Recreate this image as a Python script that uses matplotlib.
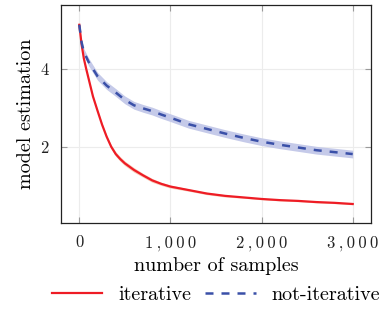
import matplotlib
matplotlib.use("Agg")
import matplotlib.pyplot as plt
import numpy as np
from matplotlib.ticker import FuncFormatter

# data
iter_x = [0, 25, 50, 75, 100, 150, 200, 250, 300, 350, 400, 450, 500, 600, 700, 800, 900,
          1000, 1200, 1400, 1600, 1800, 2000, 2200, 2400, 2600, 2800, 3000]
iter_y = [5.15, 4.65, 4.28, 4.02, 3.78, 3.30, 2.93, 2.57, 2.26, 2.00, 1.81, 1.68, 1.57,
          1.40, 1.26, 1.13, 1.04, 0.97, 0.88, 0.79, 0.73, 0.69, 0.65, 0.62, 0.60, 0.57,
          0.55, 0.52]
iter_err = [0.02, 0.02, 0.02, 0.02, 0.02, 0.03, 0.03, 0.04, 0.04, 0.05, 0.06, 0.06, 0.06,
            0.06, 0.05, 0.05, 0.04, 0.04, 0.03, 0.03, 0.03, 0.02, 0.02, 0.02, 0.02, 0.02,
            0.02, 0.02]

noit_x = [0, 25, 50, 100, 200, 300, 400, 500, 600, 700, 800, 900, 1000, 1200, 1400, 1600,
          1800, 2000, 2200, 2400, 2600, 2800, 3000]
noit_y = [5.15, 4.70, 4.45, 4.20, 3.82, 3.58, 3.40, 3.21, 3.07, 2.99, 2.92, 2.83, 2.75,
          2.58, 2.46, 2.34, 2.23, 2.13, 2.05, 1.98, 1.91, 1.86, 1.81]
noit_err = [0.02, 0.05, 0.08, 0.10, 0.10, 0.10, 0.10, 0.10, 0.10, 0.10, 0.10, 0.10, 0.10,
            0.10, 0.10, 0.10, 0.10, 0.10, 0.10, 0.10, 0.10, 0.10, 0.10]

xticks = [0, 1000, 2000, 3000]
yticks = [2, 4]

plt.rcParams['font.family'] = ['cmr10', 'DejaVu Serif']
plt.rcParams['axes.formatter.use_mathtext'] = True

fig = plt.figure(figsize=(3.84, 3.10), dpi=100)
ax = fig.add_axes([0.159, 0.282, 0.807, 0.703])

red = '#ee1c25'
blue = '#3a50a8'

ix = np.array(iter_x); iy = np.array(iter_y); ie = np.array(iter_err)
nx = np.array(noit_x); ny = np.array(noit_y); ne = np.array(noit_err)

ax.fill_between(nx, ny - ne, ny + ne, color='#c5cae9', lw=0, zorder=2)
ax.fill_between(ix, iy - ie, iy + ie, color='#f9cdb8', lw=0, zorder=2)
ax.plot(ix, iy, color=red, lw=1.6, zorder=3, label='iterative')
ax.plot(nx, ny, color=blue, lw=1.8, ls=(0, (3.2, 3.2)), zorder=4, label='not-iterative')

ax.set_xlim(-200, 3200)
ax.set_ylim(0.04, 5.67)
ax.set_xticks(xticks)
ax.set_yticks(yticks)
sp = '\u2009'
ax.xaxis.set_major_formatter(FuncFormatter(lambda v, p: sp.join(f"{int(v):,}")))
ax.yaxis.set_major_formatter(FuncFormatter(lambda v, p: f"{int(v)}"))
ax.tick_params(direction='in', length=4, width=0.8, color='#9a9a9a',
               top=True, right=True, labelsize=12, pad=9, labelcolor='#222222')
ax.grid(True, color='#ececec', lw=0.8, zorder=0)
ax.set_axisbelow(True)
for s in ax.spines.values():
    s.set_linewidth(0.9)
    s.set_color('#222222')

ax.set_xlabel('number of samples', fontsize=14.5, labelpad=5)
ax.set_ylabel('model estimation', fontsize=14.5, labelpad=4)

fig.legend(loc='center', bbox_to_anchor=(0.5625, 0.047), ncol=2, frameon=False,
           fontsize=14.5, handlelength=2.5, columnspacing=0.7, handletextpad=0.8)

fig.savefig('out.png', dpi=100)
